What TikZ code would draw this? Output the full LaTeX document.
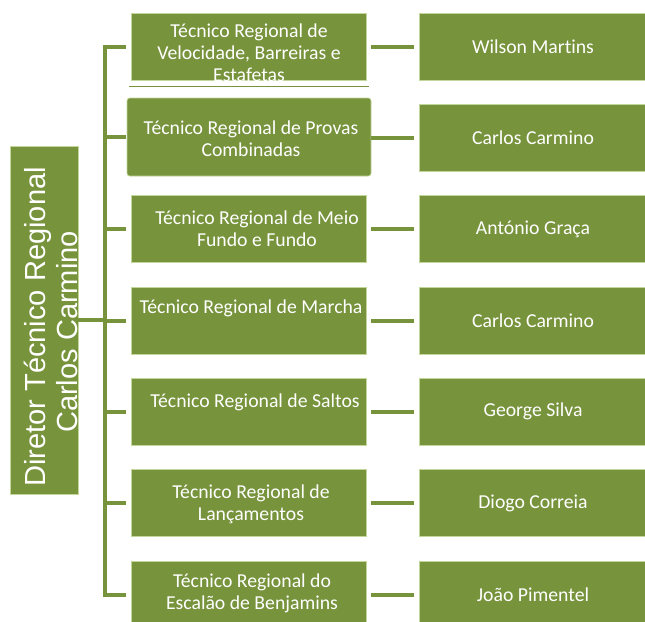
\documentclass[tikz,border=0pt]{standalone}
\usepackage{fontspec}
\setmainfont{Carlito}[Ligatures=NoCommon]
\newfontfamily\arialfont{Liberation Sans}

\definecolor{leaf}{HTML}{77933C}
\definecolor{leafedge}{HTML}{C3D69B}

\tikzset{
    box/.style={fill=leaf, draw=leafedge, line width=0.5pt, inner sep=0pt},
    midbox/.style={box, minimum width=176.25pt, minimum height=50.25pt},
    namebox/.style={box, minimum width=171pt, minimum height=50.25pt,
        text=white, font=\fontsize{14.8}{16.5}\selectfont},
    txt/.style={text=white, align=center, inner sep=0pt,
        font=\fontsize{14.8}{16.5}\selectfont},
    dirtxt/.style={text=white, rotate=90, anchor=base, inner sep=0pt,
        font=\arialfont\fontsize{21.8}{24}\selectfont},
    link/.style={draw=leaf, line width=3pt}
}

\begin{document}
\begin{tikzpicture}[x=0.75pt, y=-0.75pt]
    \useasboundingbox (0,0) rectangle (645,621);
    \clip (0,0) rectangle (645,621);

    % Director
    \node[box, minimum width=51pt, minimum height=261pt] (dir) at (44,320) {};
    \node[dirtxt] (dirtitle) at (45,327) {Diretor Técnico Regional};
    \node[dirtxt] (dirname) at (77,332) {Carlos Carmino};

    % Middle column
    \node[midbox] (m1) at (248.5,46.5) {};
    \node[box, rounded corners=2pt, minimum width=183pt, minimum height=58.5pt] (m2) at (249,137) {};
    \node[midbox] (m3) at (248.5,229) {};
    \node[midbox] (m4) at (248.5,320.5) {};
    \node[midbox] (m5) at (248.5,411.5) {};
    \node[midbox] (m6) at (248.5,503) {};
    \node[midbox] (m7) at (248.5,594.5) {};
    \draw[leaf, line width=0.75pt] (129,86) -- (369,86);

    \node[txt] (t1) at (249,53) {Técnico Regional de\\Velocidade, Barreiras e\\Estafetas};
    \node[txt] (t2) at (251,139) {Técnico Regional de Provas\\Combinadas};
    \node[txt] (t3) at (257,229) {Técnico Regional de Meio\\Fundo e Fundo};
    \node[txt] (t4) at (251,308) {Técnico Regional de Marcha};
    \node[txt] (t5) at (255,402) {Técnico Regional de Saltos};
    \node[txt] (t6) at (251,504) {Técnico Regional de\\Lançamentos};
    \node[txt] (t7) at (252,593) {Técnico Regional do\\Escalão de Benjamins};

    % Right column
    \node[namebox] (r1) at (533,46.5) {Wilson Martins};
    \node[namebox] (r2) at (533,137.5) {Carlos Carmino};
    \node[namebox] (r3) at (533,229) {António Graça};
    \node[namebox] (r4) at (533,320.5) {Carlos Carmino};
    \node[namebox] (r5) at (533,411.5) {George Silva};
    \node[namebox] (r6) at (533,503) {Diogo Correia};
    \node[namebox] (r7) at (533,594.5) {João Pimentel};

    % Connectors
    \coordinate (bus) at (105,0);
    \draw[link, line cap=rect] (bus |- m1.west) -- (bus |- m7.west);
    \draw[link] (dir.east) -- (bus |- dir.east);
    \foreach \i in {1,...,7} {
        \draw[link] (bus |- m\i.west) -- ++(21,0);
        \draw[link] ([xshift=-3.75pt]r\i.west) -- ++(-43,0);
    }
\end{tikzpicture}
\end{document}
